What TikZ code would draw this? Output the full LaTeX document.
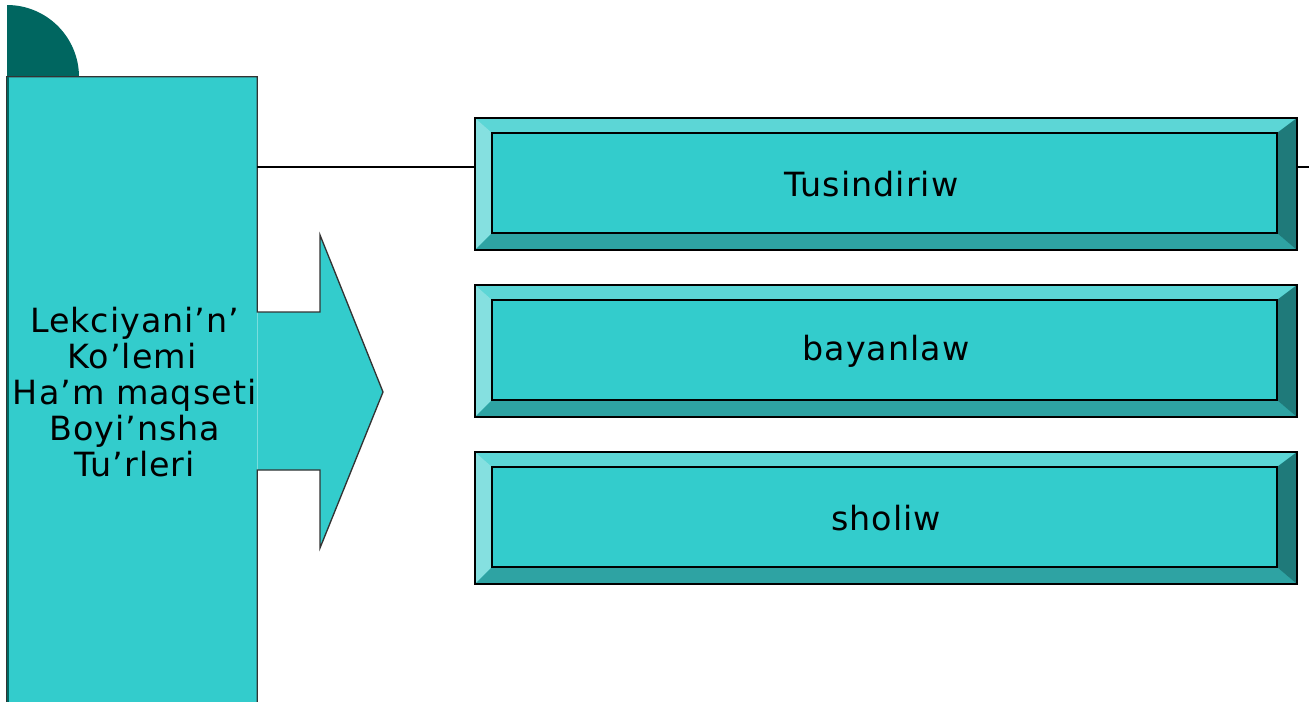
\documentclass[tikz,border=0pt]{standalone}
\usepackage{fontspec}
\setmainfont{DejaVu Sans}[LetterSpace=3]
\usepackage{xcolor}
\usepackage{tikz}
\usetikzlibrary{calc}

\definecolor{tealfill}{HTML}{33CCCC}
\definecolor{tealdark}{HTML}{006660}
\definecolor{bevleft}{HTML}{85E0E0}
\definecolor{bevtop}{HTML}{5CD6D6}
\definecolor{bevbottom}{HTML}{2EA3A3}
\definecolor{bevright}{HTML}{1F7A7A}

\tikzstyle{outline} = [draw=black!80, line width=1pt]
\tikzstyle{mainblock} = [rectangle, fill=tealfill, minimum width=187.5pt,
minimum height=472.5pt, inner sep=0pt, align=center,
font=\fontsize{25}{27}\selectfont]
\tikzstyle{kindbox} = [rectangle, fill=tealfill, minimum width=616.5pt,
minimum height=99pt, inner sep=0pt, font=\fontsize{25}{27}\selectfont]
\tikzstyle{wire} = [draw=black, line width=1pt]

% bevelled box: name, centre y, text
\newcommand{\bevelbox}[3]{%
\node[kindbox] (#1) at (886,#2) {#3};
\fill[bevtop] (#1.north west) -- (#1.north east) -- ($(#1.north east)+(-20,15)$)
    -- ($(#1.north west)+(17,15)$) -- cycle;
\fill[bevleft] (#1.north west) -- ($(#1.north west)+(17,15)$)
    -- ($(#1.south west)+(17,-17)$) -- (#1.south west) -- cycle;
\fill[bevbottom] (#1.south west) -- ($(#1.south west)+(17,-17)$)
    -- ($(#1.south east)+(-20,-17)$) -- (#1.south east) -- cycle;
\fill[bevright] (#1.north east) -- (#1.south east)
    -- ($(#1.south east)+(-20,-17)$) -- ($(#1.north east)+(-20,15)$) -- cycle;
\draw[black, line width=1.5pt] ($(#1.north west)+(17,15)$) rectangle ($(#1.south east)+(-20,-17)$);
\draw[black, line width=1.5pt] (#1.north west) rectangle (#1.south east);
}

\begin{document}
\begin{tikzpicture}[x=0.75pt, y=-0.75pt]
    \useasboundingbox (0,0) rectangle (1309,701);
    \fill[white] (0,0) rectangle (1309,701);

    % dark quarter disc behind the block
    \begin{scope}
        \clip (7,0) rectangle (300,77);
        \fill[tealdark] (7,77) circle[radius=72];
    \end{scope}

    % big block with the arrow
    \node[mainblock] (lecture) at (132,392) {\kern4pt Lekciyani’n’\\Ko’lemi\ \\\kern4pt Ha’m maqseti\\\kern4pt Boyi’nsha\\\kern4pt Tu’rleri};
    \fill[tealfill] (lecture.east |- 0,312) -- (320,312) -- (320,235) -- (383,392)
        -- (320,548) -- (320,470) -- (lecture.east |- 0,470) -- cycle;
    \draw[outline] (lecture.south west) -- (lecture.north west) -- (lecture.north east)
        -- (lecture.east |- 0,312) -- (320,312) -- (320,235) -- (383,392)
        -- (320,548) -- (320,470) -- (lecture.east |- 0,470) -- (lecture.south east);
    \draw[tealdark, line width=1.5pt] ([xshift=0.6pt]lecture.south west) -- ([xshift=0.6pt]lecture.north west);

    \coordinate (wirelevel) at (0,167);
    \coordinate (wireend) at (1309,167);

    \bevelbox{tusin}{184}{Tusindiriw\kern22pt}
    \bevelbox{bayan}{351}{bayanlaw}
    \bevelbox{shol}{518}{sholiw}

    \draw[wire] (lecture.east |- wirelevel) -- (tusin.west |- wirelevel);
    \draw[wire] (tusin.east |- wirelevel) -- (wireend);
\end{tikzpicture}
\end{document}
